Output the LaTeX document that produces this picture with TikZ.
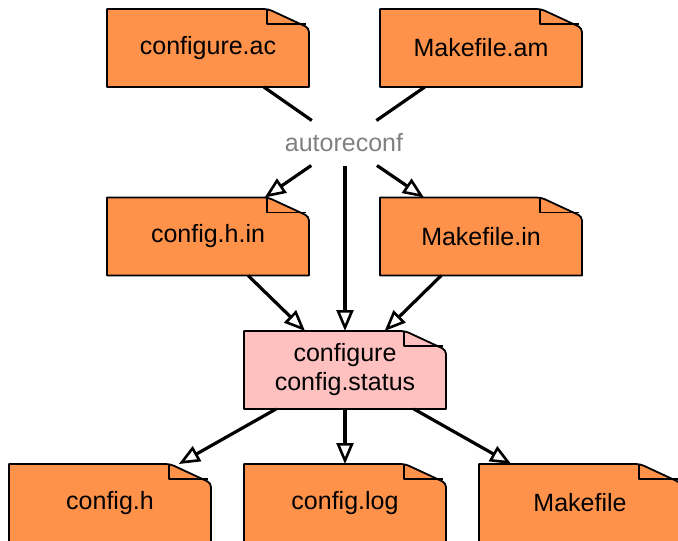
\documentclass[tikz,border=0pt]{standalone}
\usepackage{fontspec}
\setmainfont{Liberation Sans}
\usetikzlibrary{arrows.meta,backgrounds}

\definecolor{docorange}{RGB}{255,146,74}
\definecolor{docpink}{RGB}{255,192,192}
\definecolor{toolgray}{RGB}{128,128,128}

% Folded-corner document outline drawn behind a named node
\newcommand\docshape[2]{%
  \filldraw[fill=#2, draw=black, line width=1.8pt, line join=round]
    (#1.south west) -- (#1.north west) -- ([xshift=-46pt]#1.north east)
    [rounded corners=4pt] -- ([xshift=-41pt]#1.north east)
    -- ([yshift=-19pt]#1.north east) [sharp corners]
    -- (#1.south east) -- cycle;
  \draw[line width=1.8pt, line join=round]
    ([xshift=-42pt,yshift=-1pt]#1.north east)
    -- ([xshift=-42pt,yshift=-15pt]#1.north east)
    -- ([xshift=-3pt,yshift=-15pt]#1.north east);
}

\tikzset{
  x=1pt, y=-1pt,
  doc/.style={rectangle, minimum width=202pt, minimum height=78pt,
    inner sep=0pt, outer sep=0pt, align=center,
    font=\fontsize{25}{29}\selectfont},
  tool/.style={rectangle, minimum width=124pt, minimum height=45pt,
    inner sep=0pt, outer sep=0pt, text=toolgray,
    font=\fontsize{25}{29}\selectfont},
  link/.style={line width=3.2pt},
  flow/.style={line width=3.2pt,
    -{Triangle[length=21pt,width=17pt,fill=white,line width=2.6pt]}},
}

\begin{document}
\begin{tikzpicture}
  \useasboundingbox (0,0) rectangle (678,541);
  \clip (0,0) rectangle (678,541);

  % documents
  \node[doc] (cac)  at (208,48)    {configure.ac};
  \node[doc] (mam)  at (481,48)    {Makefile.am};
  \node[doc] (chin) at (208,236.5) {config.h.in};
  \node[doc] (min)  at (481,236.5) {Makefile.in};
  \node[doc] (conf) at (345,370)   {configure\\config.status};
  \node[doc] (ch)   at (110,503)   {config.h};
  \node[doc] (clog) at (345,503)   {config.log};
  \node[doc] (mk)   at (580,503)   {Makefile};

  % tool
  \node[tool] (auto) at (344,143) {autoreconf};

  \begin{scope}[on background layer]
    \docshape{cac}{docorange}
    \docshape{mam}{docorange}
    \docshape{chin}{docorange}
    \docshape{min}{docorange}
    \docshape{conf}{docpink}
    \docshape{ch}{docorange}
    \docshape{clog}{docorange}
    \docshape{mk}{docorange}
  \end{scope}

  % inputs to autoreconf
  \draw[link] (cac) -- (auto);
  \draw[link] (mam) -- (auto);

  % autoreconf outputs
  \draw[flow] (auto) -- (chin);
  \draw[flow] (auto) -- (min);
  \draw[flow] (auto.south -| conf.north) -- (conf.north);

  % configure inputs
  \draw[flow] (chin) -- (conf);
  \draw[flow] (min) -- (conf);

  % configure outputs
  \draw[flow] (conf) -- (ch);
  \draw[flow] (conf.south) -- (clog.north);
  \draw[flow] (conf) -- (mk);
\end{tikzpicture}
\end{document}
